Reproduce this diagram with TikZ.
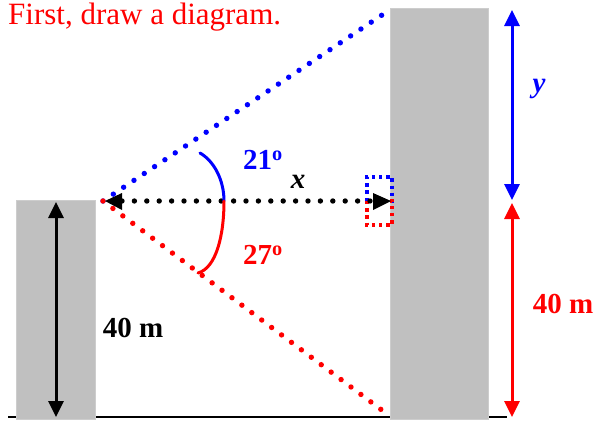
\documentclass[tikz,border=0pt]{standalone}
\usepackage{fontspec}
\setmainfont{Liberation Serif}
\usetikzlibrary{arrows.meta}
\definecolor{bldg}{RGB}{192,192,192}
\definecolor{myblue}{RGB}{0,0,255}
\definecolor{myred}{RGB}{255,0,0}
\tikzset{
  building/.style={fill=bldg,draw=bldg!80!white,line width=0.8pt},
  dotline/.style={line width=5.4pt,line cap=round,dash pattern=on 0pt off 12.4pt},
  sqmark/.style={line width=3.2pt,dash pattern=on 3.4pt off 3.8pt},
  dim/.style={line width=3pt,{Triangle[width=15pt,length=16pt]}-{Triangle[width=15pt,length=16pt]}},
  lbl/.style={font=\fontsize{29}{30}\selectfont\bfseries,inner sep=0pt},
  anglearc/.style={line width=3pt,line cap=round}
}
\begin{document}
\begin{tikzpicture}[x=1pt,y=-1pt]
\useasboundingbox (0,0) rectangle (598,421);
% ground
\coordinate (g1) at (8,417);
\coordinate (g2) at (507,417);
\draw[line width=2pt] (g1) -- (g2);
% buildings
\path[building] (16,200) rectangle (95,419);
\path[building] (390,8) rectangle (488,419);
% key points
\coordinate (eye) at (103,201);
\coordinate (tipL) at (105,201);
\coordinate (wall) at (391,201);
\coordinate (topR) at (385,13);
\coordinate (botR) at (383,411);
% right-angle marks
\draw[sqmark,myblue] (367,201) -- (367,177) -- (392,177) -- (392,201) -- cycle;
\draw[sqmark,myred] (367,201) -- (367,225) -- (392,225) -- (392,201) -- cycle;
% sight lines
\draw[dotline,myblue] (eye) -- (topR);
\draw[dotline,myred] (eye) -- (botR);
\draw[dotline,black] (122,201) -- (372,201);
\fill[black] (tipL) -- (122,193) -- (122,210) -- cycle;
\fill[black] (wall) -- (373,193) -- (373,210) -- cycle;
% angle arcs
\coordinate (arcTop) at (200,153);
\coordinate (arcMid) at (224,201);
\coordinate (arcBot) at (198,273);
\draw[anglearc,myblue] (arcTop) .. controls (214,161) and (224,180) .. (arcMid);
\draw[anglearc,myred] (arcMid) .. controls (224,236) and (216,268) .. (arcBot);
% dimension arrows
\coordinate (lt) at (56,202);
\coordinate (lb) at (56,417);
\draw[dim,black] (lt) -- (lb);
\coordinate (bt) at (512,10);
\coordinate (bb) at (512,200);
\coordinate (rb) at (512,417);
\coordinate (rt) at (512,203);
\draw[dim,myblue] (bt) -- (bb);
\draw[dim,myred] (rt) -- (rb);
% labels
\node[anchor=base west,inner sep=0pt,text=myred,font=\fontsize{31}{33}\selectfont] (title) at (8,24.5) {First, draw a diagram.};
\node[lbl,text=myblue] (a21) at (263,160) {21\textsuperscript{o}};
\node[lbl,text=myred] (a27) at (263,255) {27\textsuperscript{o}};
\node[lbl,font=\fontsize{29}{30}\selectfont\bfseries\itshape] (xl) at (298,182) {x};
\node[lbl,font=\fontsize{29}{30}\selectfont\bfseries\itshape,text=myblue] (yl) at (539,89) {y};
\node[lbl] (h1) at (133,328) {40 m};
\node[lbl,text=myred] (h2) at (563,304) {40 m};
\end{tikzpicture}
\end{document}
